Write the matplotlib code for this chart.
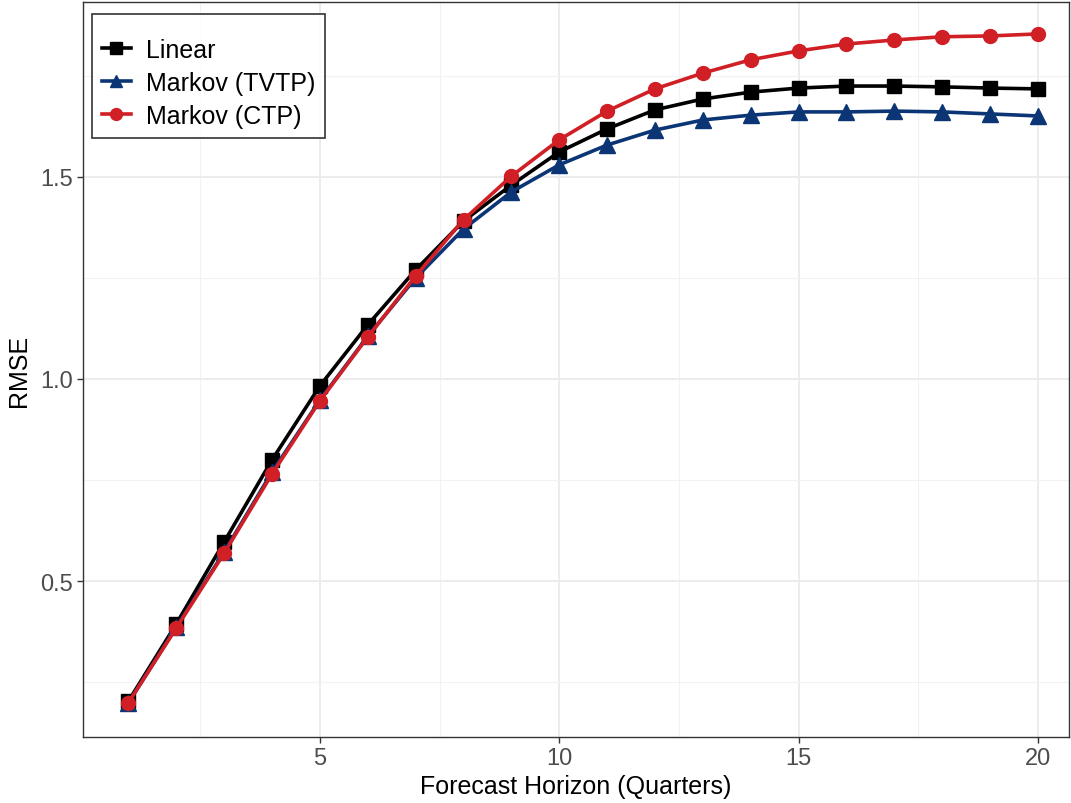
import numpy as np
import matplotlib.pyplot as plt
from matplotlib.ticker import MultipleLocator

plt.rcParams['font.family'] = ['Liberation Sans', 'DejaVu Sans']

horizon = np.arange(1, 21)

linear = [0.203, 0.394, 0.597, 0.800, 0.983, 1.134, 1.270, 1.391, 1.480, 1.562,
          1.619, 1.666, 1.693, 1.710, 1.720, 1.725, 1.725, 1.723, 1.720, 1.718]
markov_tvtp = [0.199, 0.386, 0.572, 0.770, 0.948, 1.106, 1.250, 1.371, 1.463, 1.530,
               1.579, 1.616, 1.641, 1.653, 1.661, 1.661, 1.663, 1.661, 1.656, 1.651]
markov_ctp = [0.199, 0.384, 0.569, 0.765, 0.946, 1.104, 1.255, 1.394, 1.502, 1.592,
              1.663, 1.718, 1.757, 1.790, 1.812, 1.829, 1.839, 1.847, 1.849, 1.854]

labels = ["Linear", "Markov (TVTP)", "Markov (CTP)"]
colors = ["#000000", "#0b3574", "#d11f26"]
markers = ["s", "^", "o"]

W, H = 1071, 804
fig = plt.figure(figsize=(W / 100, H / 100), dpi=100)
ax = fig.add_axes([83 / W, 1 - 738 / H, (1069 - 83) / W, (738 - 3) / H])

for ys, lab, c, m in zip([linear, markov_tvtp, markov_ctp], labels, colors, markers):
    ms = 10 if m == "o" else 9.5
    if m == "^":
        ms = 11
    ax.plot(horizon, ys, color=c, marker=m, markersize=ms, linewidth=2.6,
            label=lab, zorder=3)

ax.set_xlim(0.05, 20.65)
ax.set_ylim(0.114, 1.933)
ax.xaxis.set_minor_locator(MultipleLocator(2.5))
ax.yaxis.set_minor_locator(MultipleLocator(0.25))
ax.set_xticks([5, 10, 15, 20])
ax.set_xticklabels(["5", "10", "15", "20"])
ax.set_yticks([0.5, 1.0, 1.5])
ax.set_yticklabels(["0.5", "1.0", "1.5"])

ax.grid(which="major", color="#ebebeb", linewidth=1.3, zorder=0)
ax.grid(which="minor", color="#f2f2f2", linewidth=0.8, zorder=0)
ax.set_axisbelow(True)
ax.tick_params(which="major", length=4, color="#333333", labelsize=17,
               labelcolor="#4d4d4d", width=1)
ax.tick_params(which="minor", length=0)
for s in ax.spines.values():
    s.set_color("#333333")
    s.set_linewidth(1)

ax.set_xlabel("Forecast Horizon (Quarters)", fontsize=18, labelpad=3)
ax.set_ylabel("RMSE", fontsize=18, labelpad=6)

leg = ax.legend(loc="upper left", bbox_to_anchor=(9 / 986, 1 - 12 / 735),
                fontsize=18, frameon=True, fancybox=False, edgecolor="black",
                handlelength=1.15, handletextpad=0.6, borderpad=0.4,
                labelspacing=0.36, borderaxespad=0, title=" ",
                title_fontsize=4, markerscale=0.85)
leg.get_frame().set_linewidth(1.2)

fig.savefig("out.png", dpi=100)
